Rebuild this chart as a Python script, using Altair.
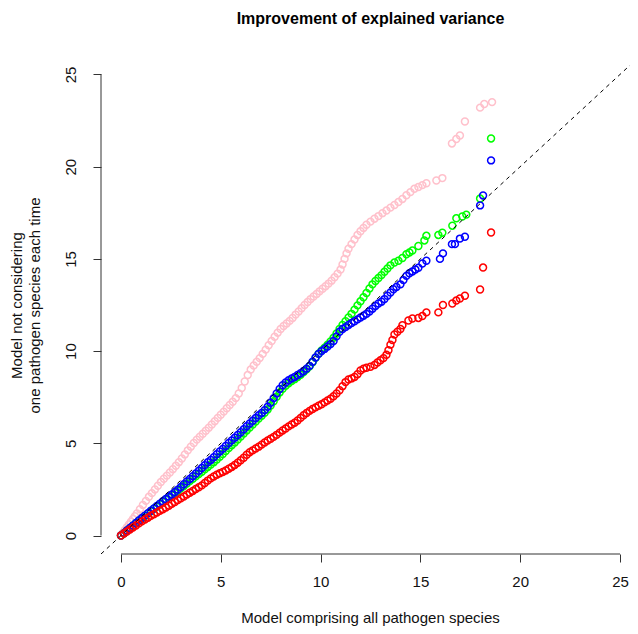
import altair as alt
import pandas as pd

# ---- data ----
pink_x = [0.00,0.10,0.20,0.30,0.40,0.50,0.60,0.70,0.80,0.95,1.10,1.25,1.40,1.55,1.70,1.85,2.00,2.15,2.30,2.45,
          2.60,2.75,2.90,3.05,3.20,3.35,3.50,3.65,3.80,3.95,4.10,4.25,4.40,4.55,4.70,4.85,5.00,5.15,5.30,5.45,
          5.60,5.75,5.90,6.05,6.20,6.35,6.50,6.65,6.80,6.95,7.10,7.25,7.40,7.55,7.70,7.85,8.00,8.15,8.30,8.45,
          8.60,8.75,8.90,9.05,9.20,9.35,9.50,9.65,9.80,9.95,10.10,10.25,10.40,10.55,10.70,10.85,11.00,11.10,11.20,11.30,
          11.40,11.55,11.70,11.85,12.00,12.15,12.30,12.50,12.70,12.90,13.10,13.30,13.50,13.70,13.90,14.10,14.30,14.50,14.70,14.90,
          15.10,15.30,15.80,16.10,16.58,16.80,16.98,17.23,17.99,18.20,18.59]
pink_y = [0.00,0.15,0.30,0.45,0.60,0.75,0.90,1.05,1.20,1.43,1.66,1.88,2.10,2.30,2.50,2.70,2.90,3.08,3.25,3.42,
          3.60,3.78,3.98,4.18,4.40,4.62,4.82,5.02,5.20,5.36,5.52,5.68,5.85,6.02,6.20,6.38,6.55,6.72,6.90,7.08,
          7.25,7.45,7.70,8.00,8.35,8.70,9.00,9.22,9.42,9.62,9.85,10.08,10.32,10.55,10.78,11.00,11.20,11.36,11.50,11.64,
          11.80,11.98,12.15,12.32,12.50,12.66,12.82,12.96,13.10,13.24,13.38,13.52,13.66,13.82,14.00,14.20,14.42,14.70,15.00,15.30,
          15.55,15.80,16.05,16.30,16.50,16.68,16.85,17.02,17.18,17.32,17.48,17.62,17.78,17.92,18.08,18.25,18.45,18.62,18.80,18.90,
          19.00,19.10,19.25,19.38,21.26,21.50,21.69,22.45,23.20,23.40,23.50]

bg_x = [0.00,0.15,0.30,0.45,0.60,0.75,0.90,1.05,1.20,1.35,1.50,1.65,1.80,1.95,2.10,2.25,2.40,2.55,2.70,2.85,
        3.00,3.15,3.30,3.45,3.60,3.75,3.90,4.05,4.20,4.35,4.50,4.65,4.80,4.95,5.10,5.25,5.40,5.55,5.70,5.85,
        6.00,6.15,6.30,6.45,6.60,6.75,6.90,7.05,7.20,7.35,7.50,7.65,7.80,7.95,8.10,8.25,8.40,8.55,8.70,8.85,
        9.00,9.15,9.30,9.45,9.60,9.75,9.90,10.05,10.20,10.35,10.50,10.65,10.80,10.95,11.10,11.25,11.40,11.55,11.70,11.85,
        12.00,12.15,12.30,12.45,12.60,12.75,12.90,13.05,13.20,13.35,13.50,13.65,13.80,14.00,14.15,14.30,14.45,14.60,14.75,14.90,
        15.10,15.30,15.98,16.13,16.58,16.73,16.98,17.23,17.99,18.14,18.54]
blue_y = [0.00,0.13,0.27,0.41,0.54,0.68,0.82,0.95,1.08,1.21,1.34,1.47,1.60,1.73,1.86,1.98,2.11,2.23,2.36,2.49,
          2.63,2.78,2.93,3.07,3.22,3.36,3.51,3.66,3.82,3.97,4.10,4.25,4.41,4.56,4.70,4.86,5.02,5.16,5.30,5.45,
          5.60,5.76,5.93,6.08,6.22,6.37,6.52,6.65,6.80,6.98,7.20,7.45,7.70,7.95,8.15,8.30,8.42,8.52,8.60,8.70,
          8.80,8.92,9.05,9.20,9.42,9.65,9.85,10.00,10.12,10.25,10.38,10.55,10.80,11.05,11.20,11.30,11.42,11.52,11.62,11.72,
          11.82,11.92,12.02,12.15,12.30,12.45,12.58,12.68,12.82,13.00,13.18,13.35,13.48,13.62,13.85,14.08,14.22,14.32,14.42,14.52,
          14.75,14.90,15.00,15.30,15.80,15.80,16.10,16.20,17.90,18.44,20.34]

green_x = [0.00,0.15,0.30,0.45,0.60,0.75,0.90,1.05,1.20,1.35,1.50,1.65,1.80,1.95,2.10,2.25,2.40,2.55,2.70,2.85,
           3.00,3.15,3.30,3.45,3.60,3.75,3.90,4.05,4.20,4.35,4.50,4.65,4.80,4.95,5.10,5.25,5.40,5.55,5.70,5.85,
           6.00,6.15,6.30,6.45,6.60,6.75,6.90,7.05,7.20,7.35,7.50,7.65,7.80,7.95,8.10,8.25,8.40,8.55,8.70,8.85,
           9.00,9.15,9.30,9.45,9.60,9.75,9.90,10.05,10.20,10.35,10.50,10.65,10.80,10.95,11.10,11.25,11.40,11.55,11.70,11.85,
           12.00,12.15,12.30,12.45,12.60,12.75,12.90,13.05,13.20,13.35,13.50,13.70,13.90,14.10,14.30,14.45,14.60,14.90,15.20,15.30,
           15.90,16.10,16.60,16.80,17.10,17.30,17.99,18.54]
green_y = [0.00,0.13,0.27,0.40,0.53,0.67,0.80,0.93,1.06,1.19,1.32,1.45,1.57,1.70,1.82,1.95,2.07,2.19,2.31,2.43,
           2.56,2.69,2.82,2.95,3.08,3.21,3.33,3.46,3.59,3.72,3.85,3.98,4.12,4.27,4.42,4.58,4.74,4.90,5.05,5.21,
           5.37,5.53,5.70,5.86,6.02,6.18,6.34,6.50,6.66,6.84,7.05,7.28,7.52,7.76,7.96,8.12,8.26,8.38,8.48,8.60,
           8.72,8.86,9.01,9.18,9.40,9.64,9.86,10.03,10.18,10.34,10.52,10.72,10.96,11.20,11.42,11.62,11.82,12.02,12.25,12.48,
           12.70,12.92,13.15,13.40,13.62,13.80,13.96,14.12,14.30,14.48,14.65,14.80,14.90,15.05,15.25,15.35,15.45,15.70,16.00,16.25,
           16.30,16.42,16.80,17.20,17.30,17.40,18.27,21.53]

red_x = [0.00,0.15,0.30,0.45,0.60,0.75,0.90,1.05,1.20,1.35,1.50,1.65,1.80,1.95,2.10,2.25,2.40,2.55,2.70,2.85,
         3.00,3.15,3.30,3.45,3.60,3.75,3.90,4.05,4.20,4.35,4.50,4.65,4.80,4.95,5.10,5.25,5.40,5.55,5.70,5.85,
         6.00,6.15,6.30,6.45,6.60,6.75,6.90,7.05,7.20,7.35,7.50,7.65,7.80,7.95,8.10,8.25,8.40,8.55,8.70,8.85,
         9.00,9.15,9.30,9.45,9.60,9.75,9.90,10.05,10.20,10.35,10.50,10.65,10.80,10.95,11.10,11.25,11.40,11.55,11.70,11.85,
         12.00,12.15,12.30,12.50,12.70,12.85,13.00,13.15,13.30,13.40,13.50,13.60,13.70,13.85,14.00,14.10,14.40,14.60,14.90,15.10,
         15.30,15.90,16.13,16.60,16.80,16.98,17.23,17.99,18.14,18.54]
red_y = [0.00,0.11,0.22,0.33,0.44,0.55,0.66,0.77,0.87,0.97,1.07,1.16,1.25,1.34,1.43,1.52,1.62,1.72,1.82,1.92,
         2.02,2.12,2.22,2.32,2.42,2.52,2.62,2.72,2.85,2.98,3.10,3.20,3.30,3.38,3.45,3.53,3.62,3.72,3.83,3.95,
         4.08,4.22,4.38,4.52,4.62,4.72,4.82,4.93,5.05,5.15,5.25,5.35,5.46,5.58,5.70,5.80,5.92,6.02,6.12,6.24,
         6.38,6.52,6.64,6.76,6.86,6.95,7.04,7.12,7.22,7.32,7.42,7.55,7.70,7.88,8.10,8.32,8.46,8.52,8.60,8.75,
         8.95,9.05,9.10,9.15,9.25,9.38,9.50,9.62,9.80,10.05,10.35,10.60,10.90,11.05,11.20,11.40,11.66,11.77,11.80,11.90,
         12.10,12.10,12.50,12.58,12.74,12.85,13.00,13.34,14.53,16.43]

ticks = [0, 5, 10, 15, 20, 25]

FONT = "Liberation Sans"
W, H = 529, 498
xscale = alt.Scale(domain=[-1, 25.5], nice=False, zero=False)
yscale = alt.Scale(domain=[-1, 26], nice=False, zero=False)

xaxis = alt.Axis(values=ticks, domain=False, grid=False, tickSize=8, tickColor="#333",
                 labelFontSize=15, labelFont=FONT, labelColor="#111", labelPadding=12,
                 labelBaseline="top", title="Model comprising all pathogen species",
                 titleFont=FONT, titleFontSize=15, titleFontWeight="normal", titleColor="#111",
                 titleX=269, titleY=63, titleBaseline="middle", titleAlign="center")
yaxis = alt.Axis(values=ticks, domain=False, grid=False, tickSize=8, tickColor="#333",
                 labelFontSize=15, labelFont=FONT, labelColor="#111", labelAngle=270,
                 labelAlign="center", labelBaseline="middle", labelPadding=23,
                 title=["Model not considering", "one pathogen species each time"],
                 titleFont=FONT, titleFontSize=15, titleFontWeight="normal", titleColor="#111",
                 titleAngle=270, titleAlign="center", titleBaseline="middle", titleLineHeight=18,
                 titleX=-85, titleY=249)


def series(xs, ys, color):
    df = pd.DataFrame({"x": xs, "y": ys})
    return alt.Chart(df).mark_point(shape="circle", filled=False, size=48, strokeWidth=1.5,
                                    color=color, opacity=1).encode(
        x=alt.X("x:Q", scale=xscale, axis=xaxis),
        y=alt.Y("y:Q", scale=yscale, axis=yaxis),
    )


diag = alt.Chart(pd.DataFrame({"x": [-1, 27], "y": [-1, 27]})).mark_line(
    clip=True, color="black", strokeWidth=1, strokeDash=[4, 4]).encode(
    x=alt.X("x:Q", scale=xscale, axis=xaxis), y=alt.Y("y:Q", scale=yscale, axis=yaxis))

xline = alt.Chart(pd.DataFrame({"a": [0], "b": [25]})).mark_rule(color="#333", strokeWidth=1).encode(
    x=alt.X("a:Q", scale=xscale, axis=xaxis), x2="b:Q", y=alt.value(H))
yline = alt.Chart(pd.DataFrame({"a": [0], "b": [25]})).mark_rule(color="#333", strokeWidth=1).encode(
    y=alt.Y("a:Q", scale=yscale, axis=yaxis), y2="b:Q", x=alt.value(0))

chart = alt.layer(
    xline, yline,
    series(pink_x, pink_y, "#FFC0CB"),
    series(green_x, green_y, "#00FF00"),
    series(bg_x, blue_y, "#0000FF"),
    series(red_x, red_y, "#FF0000"),
    diag,
).properties(
    width=W, height=H,
    title=alt.TitleParams("Improvement of explained variance", font=FONT, fontSize=16,
                          fontWeight="bold", color="black", anchor="middle", dx=5, offset=29),
    autosize=alt.AutoSizeParams(type="none"),
    padding={"left": 93, "top": 48, "right": 0, "bottom": 72},
).configure_view(stroke=None)

chart.save("out.html", embed_options={"renderer": "svg", "actions": False})
